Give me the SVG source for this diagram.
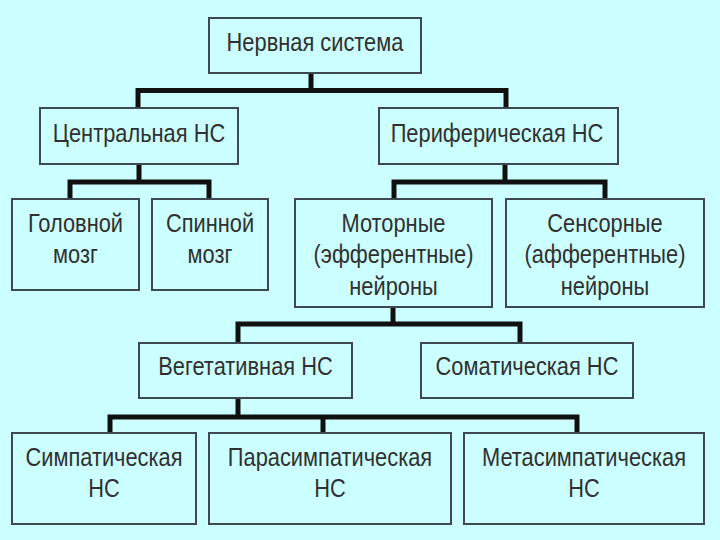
<svg xmlns="http://www.w3.org/2000/svg" width="720" height="540" viewBox="0 0 720 540">
<style>
.bg{fill:#ccffff}
.box{fill:#ccffff;stroke:#3e4850;stroke-width:2}
.t{font-family:"Liberation Sans","Arial",sans-serif;font-size:26px;fill:#303030;text-anchor:middle}
.con{fill:none;stroke:#111111;stroke-width:5;stroke-linejoin:miter}
</style>
<rect class="bg" x="0" y="0" width="720" height="540"/>
<g id="connectors">
<path class="con" d="M311,73 V90.5 M138,108 V90.5 H506 V108"/>
<path class="con" d="M139,164 V182 M70,199 V182 H209 V199"/>
<path class="con" d="M505,164 V182 M394,199 V182 H605 V199"/>
<path class="con" d="M393,307 V324 M238,343 V324 H520 V343"/>
<path class="con" d="M238,398 V417 M110,433 V417 H577 V433 M323,417 V433"/>
</g>
<g id="n-nervous">
<rect class="box" x="209" y="18" width="212" height="55"/>
<text class="t" transform="scale(0.84,1)" x="375" y="51">Нервная система</text>
</g>
<g id="n-central">
<rect class="box" x="40" y="108" width="198" height="56"/>
<text class="t" transform="scale(0.84,1)" x="165.48" y="142">Центральная НС</text>
</g>
<g id="n-peripheral">
<rect class="box" x="379" y="108" width="239" height="56"/>
<text class="t" transform="scale(0.84,1)" x="591.67" y="142">Периферическая НС</text>
</g>
<g id="n-brain">
<rect class="box" x="12" y="199" width="127" height="91"/>
<text class="t" transform="scale(0.84,1)" x="89.88" y="232">Головной</text>
<text class="t" transform="scale(0.84,1)" x="89.88" y="263">мозг</text>
</g>
<g id="n-spinal">
<rect class="box" x="152" y="199" width="116" height="91"/>
<text class="t" transform="scale(0.84,1)" x="250" y="232">Спинной</text>
<text class="t" transform="scale(0.84,1)" x="250" y="263">мозг</text>
</g>
<g id="n-motor">
<rect class="box" x="295" y="199" width="197" height="108"/>
<text class="t" transform="scale(0.84,1)" x="468.45" y="232">Моторные</text>
<text class="t" transform="scale(0.84,1)" x="468.45" y="263">(эфферентные)</text>
<text class="t" transform="scale(0.84,1)" x="468.45" y="295">нейроны</text>
</g>
<g id="n-sensory">
<rect class="box" x="506" y="199" width="198" height="108"/>
<text class="t" transform="scale(0.84,1)" x="720.24" y="232">Сенсорные</text>
<text class="t" transform="scale(0.84,1)" x="720.24" y="263">(афферентные)</text>
<text class="t" transform="scale(0.84,1)" x="720.24" y="295">нейроны</text>
</g>
<g id="n-vegetative">
<rect class="box" x="139" y="343" width="213" height="55"/>
<text class="t" transform="scale(0.84,1)" x="292.26" y="375">Вегетативная НС</text>
</g>
<g id="n-somatic">
<rect class="box" x="421" y="343" width="212" height="55"/>
<text class="t" transform="scale(0.84,1)" x="627.38" y="375">Соматическая НС</text>
</g>
<g id="n-sympathetic">
<rect class="box" x="12" y="433" width="184" height="91"/>
<text class="t" transform="scale(0.84,1)" x="123.81" y="466">Симпатическая</text>
<text class="t" transform="scale(0.84,1)" x="123.81" y="497">НС</text>
</g>
<g id="n-parasympathetic">
<rect class="box" x="209" y="433" width="242" height="91"/>
<text class="t" transform="scale(0.84,1)" x="392.86" y="466">Парасимпатическая</text>
<text class="t" transform="scale(0.84,1)" x="392.86" y="497">НС</text>
</g>
<g id="n-metasympathetic">
<rect class="box" x="464" y="433" width="240" height="91"/>
<text class="t" transform="scale(0.84,1)" x="695.24" y="466">Метасимпатическая</text>
<text class="t" transform="scale(0.84,1)" x="695.24" y="497">НС</text>
</g>
</svg>
